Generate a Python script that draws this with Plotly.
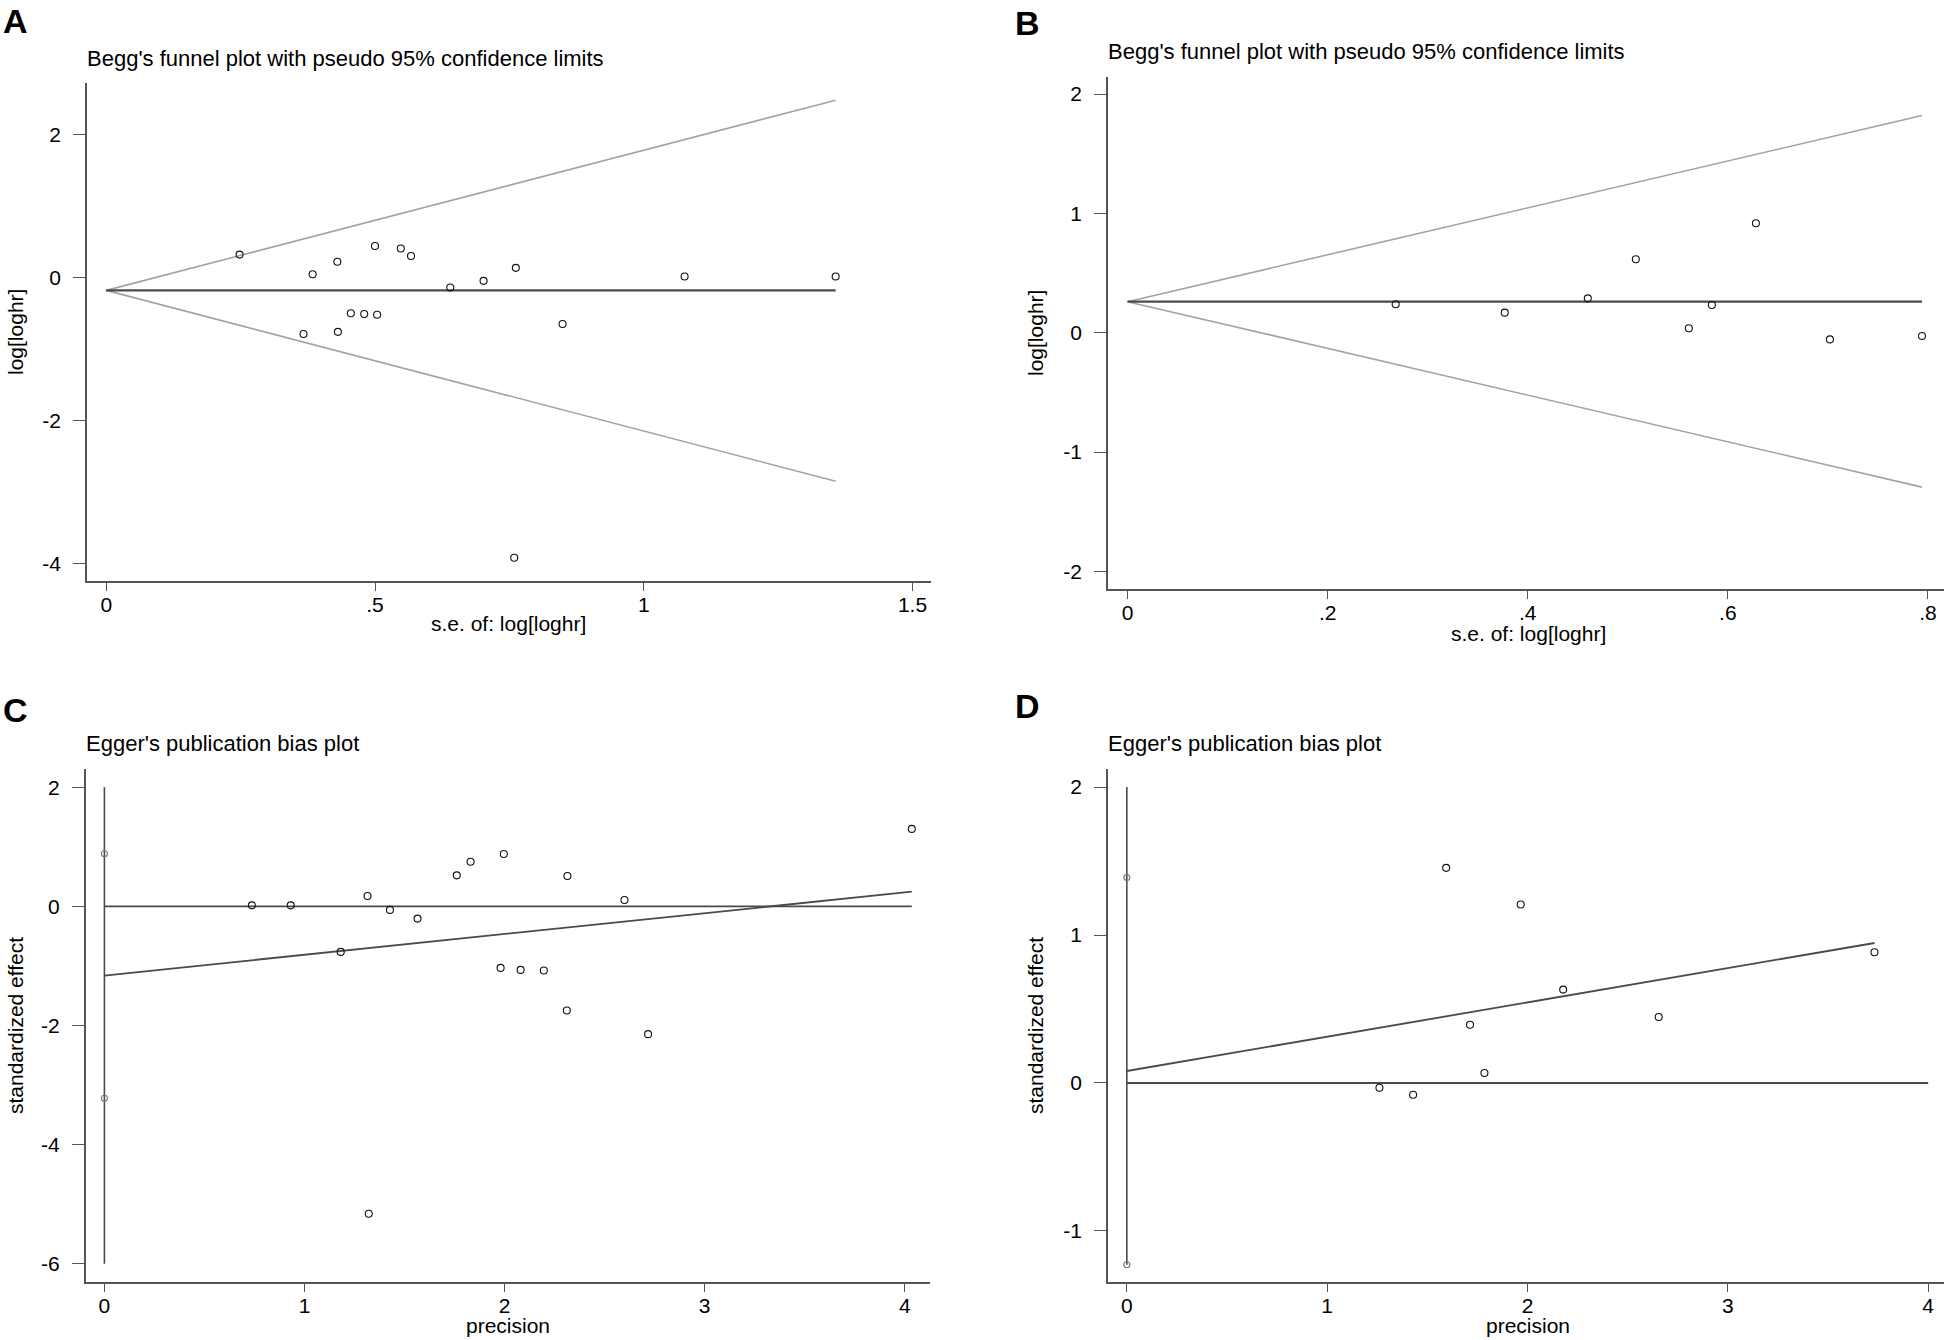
import plotly.graph_objects as go

W, H = 1946, 1340

# ---- Panel A: Begg's funnel plot ----
a_se = [0.248, 0.384, 0.430, 0.500, 0.548, 0.567, 0.640, 0.702, 0.762, 1.076,
        1.357, 0.455, 0.480, 0.504, 0.849, 0.367, 0.431, 0.759]
a_eff = [0.32, 0.046, 0.22, 0.44, 0.405, 0.30, -0.14, -0.047, 0.135, 0.014,
         0.014, -0.50, -0.51, -0.52, -0.65, -0.79, -0.76, -3.92]
a_lim_se = [0, 1.357]
a_center = [-0.18, -0.18]
a_upper = [-0.18, 2.48]
a_lower = [-0.18, -2.85]

# ---- Panel B: Begg's funnel plot ----
b_se = [0.268, 0.377, 0.460, 0.508, 0.584, 0.628, 0.561, 0.702, 0.794]
b_eff = [0.238, 0.168, 0.288, 0.615, 0.232, 0.917, 0.037, -0.056, -0.028]
b_lim_se = [0, 0.794]
b_center = [0.26, 0.26]
b_upper = [0.26, 1.82]
b_lower = [0.26, -1.294]

# ---- Panel C: Egger's plot ----
c_prec = [0.737, 0.931, 1.181, 1.315, 1.427, 1.565, 1.761, 1.830, 1.996, 1.98,
          2.08, 2.196, 2.314, 2.599, 4.035, 2.311, 2.717, 1.321]
c_eff = [0.017, 0.017, -0.765, 0.174, -0.06, -0.206, 0.52, 0.749, 0.878, -1.033,
         -1.067, -1.078, 0.509, 0.107, 1.30, -1.749, -2.145, -5.16]
c_ci = [0.883, -3.22]
c_vline = [2, -6]
c_fit_x = [0, 4.035]
c_fit_y = [-1.162, 0.246]
c_zero_x = [0, 4.035]

# ---- Panel D: Egger's plot ----
d_prec = [1.594, 1.966, 2.178, 3.732, 1.713, 2.655, 1.785, 1.261, 1.429]
d_eff = [1.454, 1.206, 0.631, 0.884, 0.394, 0.446, 0.068, -0.032, -0.079]
d_ci = [1.388, -1.228]
d_vline = [2, -1.228]
d_fit_x = [0, 3.732]
d_fit_y = [0.081, 0.946]
d_zero_x = [0, 4.0]

FONT = "Liberation Sans, Arial, sans-serif"
LIMIT_GREY = "#a3a3a3"
DARK = "#4a4a4a"


def px(x):
    return x / W


def py(y):
    return 1 - y / H


def line(x, y, color, width, ax):
    return go.Scatter(x=x, y=y, mode="lines", line=dict(color=color, width=width),
                      xaxis="x" + ax, yaxis="y" + ax, showlegend=False, hoverinfo="skip")


def pts(x, y, ax, color="#111111", size=7):
    return go.Scatter(x=x, y=y, mode="markers",
                      marker=dict(symbol="circle-open", size=size, color=color,
                                  line=dict(width=1.1, color=color)),
                      xaxis="x" + ax, yaxis="y" + ax, showlegend=False)


fig = go.Figure()

# A
fig.add_trace(line(a_lim_se, a_upper, LIMIT_GREY, 1.6, ""))
fig.add_trace(line(a_lim_se, a_lower, LIMIT_GREY, 1.6, ""))
fig.add_trace(line(a_lim_se, a_center, DARK, 2.2, ""))
fig.add_trace(pts(a_se, a_eff, ""))

# B
fig.add_trace(line(b_lim_se, b_upper, LIMIT_GREY, 1.6, "2"))
fig.add_trace(line(b_lim_se, b_lower, LIMIT_GREY, 1.6, "2"))
fig.add_trace(line(b_lim_se, b_center, DARK, 2.2, "2"))
fig.add_trace(pts(b_se, b_eff, "2"))

# C
fig.add_trace(line([0, 0], c_vline, DARK, 1.6, "3"))
fig.add_trace(line(c_zero_x, [0, 0], DARK, 1.8, "3"))
fig.add_trace(line(c_fit_x, c_fit_y, DARK, 1.8, "3"))
fig.add_trace(pts(c_prec, c_eff, "3"))
fig.add_trace(pts([0, 0], c_ci, "3", color="#777777", size=6))

# D
fig.add_trace(line([0, 0], d_vline, DARK, 1.6, "4"))
fig.add_trace(line(d_zero_x, [0, 0], DARK, 1.8, "4"))
fig.add_trace(line(d_fit_x, d_fit_y, DARK, 1.8, "4"))
fig.add_trace(pts(d_prec, d_eff, "4"))
fig.add_trace(pts([0, 0], d_ci, "4", color="#777777", size=6))


def xax(dom, rng, vals, texts, anchor):
    return dict(domain=[px(dom[0]), px(dom[1])], range=rng, anchor=anchor,
                tickvals=vals, ticktext=texts, showgrid=False, zeroline=False,
                showline=True, linecolor="#555555", linewidth=1.6,
                ticks="outside", ticklen=8, tickwidth=1.3, tickcolor="#555555",
                ticklabelstandoff=-4,
                tickfont=dict(size=21, color="black", family=FONT))


def yax(dom, rng, vals, anchor):
    return dict(domain=[py(dom[1]), py(dom[0])], range=rng, anchor=anchor,
                tickvals=vals, ticktext=[str(v) for v in vals], showgrid=False,
                zeroline=False, showline=True, linecolor="#555555", linewidth=1.6,
                ticks="outside", ticklen=12, tickwidth=1.3, tickcolor="#555555",
                ticklabelstandoff=8,
                tickfont=dict(size=21, color="black", family=FONT))


fig.update_layout(
    width=W, height=H, margin=dict(l=0, r=0, t=0, b=0),
    plot_bgcolor="white", paper_bgcolor="white", showlegend=False,
    xaxis=xax([87, 931], [-0.0358, 1.5344], [0, 0.5, 1, 1.5], ["0", ".5", "1", "1.5"], "y"),
    yaxis=yax([83, 580.7], [-4.24, 2.72], [-4, -2, 0, 2], "x"),
    xaxis2=xax([1108, 1944], [-0.0195, 0.816], [0, 0.2, 0.4, 0.6, 0.8],
               ["0", ".2", ".4", ".6", ".8"], "y2"),
    yaxis2=yax([77.3, 589.3], [-2.15, 2.14], [-2, -1, 0, 1, 2], "x2"),
    xaxis3=xax([85.6, 930], [-0.094, 4.126], [0, 1, 2, 3, 4], ["0", "1", "2", "3", "4"], "y3"),
    yaxis3=yax([769.3, 1282.3], [-6.31, 2.30], [-6, -4, -2, 0, 2], "x3"),
    xaxis4=xax([1108, 1944], [-0.094, 4.079], [0, 1, 2, 3, 4], ["0", "1", "2", "3", "4"], "y4"),
    yaxis4=yax([769.3, 1282.3], [-1.347, 2.12], [-1, 0, 1, 2], "x4"),
)

ann = []
# panel letters (top of text box)
for letter, x, y in [("A", 15, 0), ("B", 1027, 2), ("C", 15, 689), ("D", 1027, 685)]:
    ann.append(dict(text="<b>%s</b>" % letter, x=px(x), y=py(y), xanchor="center",
                    yanchor="top", font=dict(size=34, family=FONT, color="black")))
# titles
begg = "Begg's funnel plot with pseudo 95% confidence limits"
egger = "Egger's publication bias plot"
for t, x, y in [(begg, 85, 58), (begg, 1106, 51), (egger, 84, 743), (egger, 1106, 743)]:
    ann.append(dict(text=t, x=px(x), y=py(y), xanchor="left", yanchor="middle",
                    font=dict(size=22, family=FONT, color="black")))
# x titles
for t, x, y in [("s.e. of: log[loghr]", 509, 624), ("s.e. of: log[loghr]", 1528, 633),
                ("precision", 508, 1325), ("precision", 1528, 1325)]:
    ann.append(dict(text=t, x=px(x), y=py(y), xanchor="center", yanchor="middle",
                    font=dict(size=21, family=FONT, color="black")))
# y titles
for t, x, y in [("log[loghr]", 15, 332), ("log[loghr]", 1035, 333),
                ("standardized effect", 15, 1026), ("standardized effect", 1035, 1026)]:
    ann.append(dict(text=t, x=px(x), y=py(y), xanchor="center", yanchor="middle",
                    textangle=-90, font=dict(size=21, family=FONT, color="black")))

for a in ann:
    a.update(xref="paper", yref="paper", showarrow=False)
fig.update_layout(annotations=ann)

# drop the default page margin so the figure sits at the window's corner
fig.write_html("out.html", config={"displayModeBar": False},
               post_script="document.body.style.margin='0px';")
